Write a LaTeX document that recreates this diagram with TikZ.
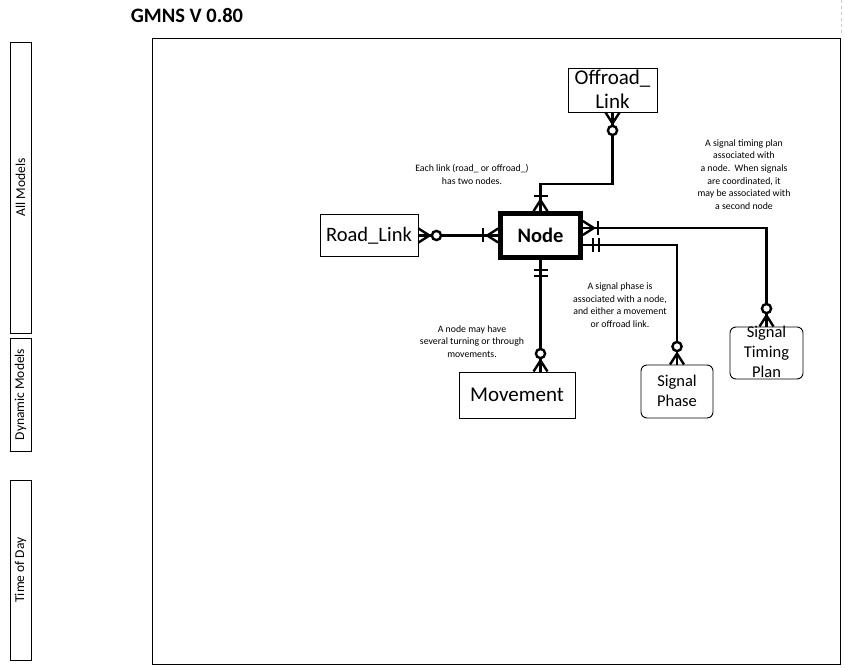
\documentclass[tikz,border=0pt]{standalone}
\usepackage{fontspec}
\setmainfont{Carlito}
\usetikzlibrary{calc}
\begin{document}
\begin{tikzpicture}[x=1pt,y=1pt,
  conn/.style={line width=2.4pt, line join=miter},
  ent/.style={draw, line width=0.9pt, inner sep=0pt},
  rent/.style={draw, line width=0.9pt, rounded corners=6pt, inner sep=0pt},
  note/.style={font=\fontsize{9.8}{12.6}\selectfont, align=center, inner sep=0pt},
  side/.style={draw, line width=0.9pt, minimum width=21pt, inner sep=0pt},
  sidetext/.style={rotate=90, font=\fontsize{13.5}{15}\selectfont},
  zmany/.pic={\draw[conn] (0,7)--(11,0)--(0,-7); \draw[conn,fill=white] (18,0) circle (4.6);},
  omany/.pic={\draw[conn] (0,7)--(11,0)--(0,-7); \draw[conn] (15,-7)--(15,7);},
  oone/.pic={\draw[conn] (10,-7)--(10,7); \draw[conn] (16,-7)--(16,7);}
]
\useasboundingbox (0,0) rectangle (845,667);
\draw[gray!40, dashed, line width=0.6pt] (841,667) -- (841,632);

\node[font=\fontsize{20.5}{22}\selectfont\bfseries] (title) at (187,651) {GMNS V 0.80};

% side boxes
\node[side, minimum height=291pt] (allm) at (20.5,479.5) {};
\node[sidetext] (allmt) at (allm) {All Models};
\node[side, minimum height=113pt] (dynm) at (20.5,272.5) {};
\node[sidetext] (dynmt) at (dynm) {Dynamic Models};
\node[side, minimum height=180pt] (tod) at (20.5,97) {};
\node[sidetext] (todt) at (tod) {Time of Day};

% main frame
\node[draw, line width=0.9pt, minimum width=688pt, minimum height=626pt, inner sep=0pt] (frame) at (496,316) {};

% entities
\node[ent, minimum width=89pt, minimum height=44pt] (off) at (612.5,577) {};
\node[align=center, font=\fontsize{21}{24}\selectfont] (offt) at (612.5,578) {Offroad\_\\Link};
\node[ent, minimum width=98pt, minimum height=42pt, font=\fontsize{20.5}{22}\selectfont] (rl) at (369,431.5) {Road\_Link};
\node[draw, line width=4.6pt, minimum width=80pt, minimum height=44pt, inner sep=0pt, font=\fontsize{20.5}{22}\selectfont\bfseries] (nd) at (540.5,431.5) {Node};
\node[ent, minimum width=116pt, minimum height=46pt, font=\fontsize{21}{22}\selectfont] (mv) at (517,272) {Movement};
\node[rent, minimum width=72pt, minimum height=53pt] (sp) at (677,275.5) {};
\node[align=center, font=\fontsize{16.5}{20}\selectfont] (spt) at (677,276) {Signal\\Phase};
\node[rent, minimum width=73pt, minimum height=52pt] (stp) at (766.5,314) {};
\node[align=center, font=\fontsize{16.5}{20}\selectfont] (stpt) at (766.5,315) {Signal\\Timing\\Plan};

% connectors
\draw[conn] (rl.east) -- (nd.west);
\pic at (rl.east) {zmany};
\pic[rotate=180] at (nd.west) {omany};

\draw[conn] (off.south) |- ($(nd.north)+(0,27)$) -- (nd.north);
\pic[rotate=-90] at (off.south) {zmany};
\pic[rotate=90] at (nd.north) {omany};

\coordinate (mvtop) at (nd.south |- mv.north);
\draw[conn] (nd.south) -- (mvtop);
\pic[rotate=-90] at (nd.south) {oone};
\pic[rotate=90] at (mvtop) {zmany};

\coordinate (spst) at ($(nd.east)+(0,-9.5)$);
\draw[conn] (spst) -| (sp.north);
\pic at (spst) {oone};
\pic[rotate=90] at (sp.north) {zmany};

\coordinate (stpst) at ($(nd.east)+(0,7.5)$);
\draw[conn] (stpst) -| (stp.north);
\pic at (stpst) {omany};
\pic[rotate=90] at (stp.north) {zmany};

% notes
\node[note] (n1) at (472,492.5) {Each link (road\_ or offroad\_)\\has two nodes.};
\node[note] (n2) at (744,492.5) {A signal timing plan\\associated with\\a node.\ \ When signals\\are coordinated, it\\may be associated with\\a second node};
\node[note] (n3) at (620,362) {A signal phase is\\associated with a node,\\and either a movement\\or offroad link.};
\node[note] (n4) at (472,325.5) {A node may have\\several turning or through\\movements.};
\end{tikzpicture}
\end{document}
